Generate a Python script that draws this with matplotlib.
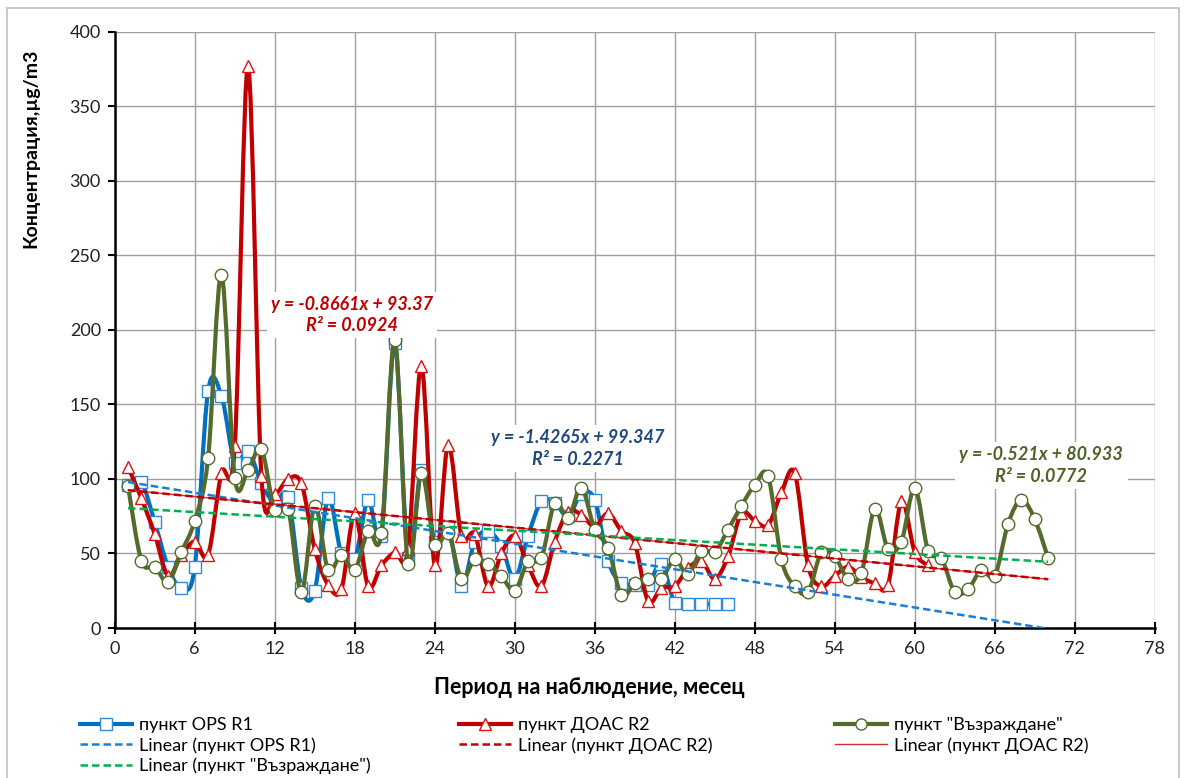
import numpy as np
import matplotlib
matplotlib.use("Agg")
import matplotlib.pyplot as plt
from matplotlib.path import Path
from matplotlib.patches import PathPatch, Rectangle
from matplotlib.lines import Line2D

plt.rcParams['font.family'] = ['Lato', 'Open Sans', 'DejaVu Sans']

# data (month index -> concentration, ug/m3)
ops_x = np.arange(1, 47)
ops_y = [96, 98, 71, 41, 27, 41, 159, 156, 111, 119, 97, 84, 88, 27, 25, 87, 50, 46, 86, 62,
         191, 47, 106, 58, 68, 28, 58, 65, 55, 33, 62, 85, 84, 75, 90, 86, 45, 30, 29, 29,
         43, 17, 16, 16, 16, 16]

doas_x = np.arange(1, 62)
doas_y = [108, 87, 63, 35, 49, 58, 49, 104, 122, 377, 102, 90, 100, 97, 53, 29, 26, 77, 28, 42,
          51, 53, 176, 42, 123, 62, 63, 28, 50, 62, 42, 28, 58, 78, 76, 68, 77, 65, 57, 18,
          27, 28, 40, 45, 33, 48, 77, 72, 69, 91, 104, 42, 28, 35, 41, 34, 30, 29, 85, 51, 42]

vaz_x = np.arange(1, 71)
vaz_y = [95, 45, 41, 31, 51, 72, 114, 237, 101, 106, 120, 79, 80, 24, 82, 39, 49, 39, 65, 64,
         193, 43, 104, 56, 64, 33, 46, 43, 35, 25, 45, 47, 84, 74, 94, 66, 54, 22, 30, 33,
         33, 46, 36, 52, 51, 66, 82, 96, 102, 46, 28, 24, 51, 48, 33, 37, 80, 53, 58, 94,
         52, 47, 24, 26, 39, 35, 70, 86, 73, 47]

# trendline coefficients as printed on the chart
ops_fit = (-1.4265, 99.347, 0.2271)
doas_fit = (-0.8661, 93.37, 0.0924)
vaz_fit = (-0.521, 80.933, 0.0772)
trend_x = [1, 70]

blue = '#0070C0'
blue_mk = '#2E8BD6'
red = '#C00000'
red_mk = '#E01010'
olive = '#546B2C'
green_tr = '#00B050'


def smooth_path(x, y):
    # excel-like smoothed line: cubic bezier through the points
    x = list(x)
    y = list(y)
    n = len(x)
    verts = [(x[0], y[0])]
    codes = [Path.MOVETO]
    for i in range(n - 1):
        xp, yp = (x[i - 1], y[i - 1]) if i > 0 else (x[i], y[i])
        xn, yn = (x[i + 2], y[i + 2]) if i + 2 < n else (x[i + 1], y[i + 1])
        c1 = (x[i] + (x[i + 1] - xp) / 6, y[i] + (y[i + 1] - yp) / 6)
        c2 = (x[i + 1] - (xn - x[i]) / 6, y[i + 1] - (yn - y[i]) / 6)
        verts += [c1, c2, (x[i + 1], y[i + 1])]
        codes += [Path.CURVE4] * 3
    return Path(verts, codes)


fig = plt.figure(figsize=(11.84, 7.78), dpi=100)
ax = fig.add_axes([0.0969, 0.1928, 0.8784, 0.7661])

series = [
    (ops_x, ops_y, blue, blue_mk, 's', 8.5),
    (doas_x, doas_y, red, red_mk, '^', 9),
    (vaz_x, vaz_y, olive, olive, 'o', 9),
]
z = 3
for xs, ys, col, mcol, mk, ms in series:
    ax.add_patch(PathPatch(smooth_path(xs, ys), fill=False, ec=col, lw=3.0,
                           zorder=z, capstyle='round', joinstyle='round'))
    ax.plot(xs, ys, ls='none', marker=mk, ms=ms, mfc='white', mec=mcol, mew=1.0, zorder=z + 0.5)
    z += 1

tx = np.array(trend_x, dtype=float)
ax.plot(tx, ops_fit[0] * tx + ops_fit[1], color='#1A7FD4', lw=1.8, ls=(0, (3, 1.6)), zorder=10)
ax.plot(tx, doas_fit[0] * tx + doas_fit[1], color='#D03030', lw=1.0, ls='-', zorder=10)
ax.plot(tx, doas_fit[0] * tx + doas_fit[1], color=red, lw=1.8, ls=(0, (3, 1.6)), zorder=10)
ax.plot(tx, vaz_fit[0] * tx + vaz_fit[1], color=green_tr, lw=1.8, ls=(0, (3, 1.6)), zorder=10)

ax.set_xlim(0, 78)
ax.set_ylim(0, 400)
ax.set_xticks(np.arange(0, 79, 6))
ax.set_yticks(np.arange(0, 401, 50))
ax.grid(True, color='#A0A0A0', lw=1.0)
ax.set_axisbelow(True)
for s in ['top', 'right']:
    ax.spines[s].set_visible(False)
for s in ['left', 'bottom']:
    ax.spines[s].set_linewidth(1.8)
    ax.spines[s].set_color('black')
ax.tick_params(axis='x', direction='inout', length=9, width=1.5, labelsize=13, pad=5, colors='black',
               labelcolor='#222222')
ax.tick_params(axis='y', direction='out', length=5, width=1.5, labelsize=13, pad=5, colors='black',
               labelcolor='#222222')

fs_eq = 13
ax.text(17.8, 210, 'y = -0.8661x + 93.37\nR² = 0.0924', color=red, fontsize=fs_eq,
        fontweight='bold', fontstyle='italic', ha='center', va='center', linespacing=1.3,
        bbox=dict(fc='white', ec='none', pad=3), zorder=12)
ax.text(34.75, 120.5, 'y = -1.4265x + 99.347\nR² = 0.2271', color='#1F497D', fontsize=fs_eq,
        fontweight='bold', fontstyle='italic', ha='center', va='center', linespacing=1.3,
        bbox=dict(fc='white', ec='none', pad=3), zorder=12)
ax.text(69.5, 109, 'y = -0.521x + 80.933\nR² = 0.0772', color='#4F6228', fontsize=fs_eq,
        fontweight='bold', fontstyle='italic', ha='center', va='center', linespacing=1.3,
        bbox=dict(fc='white', ec='none', pad=3), zorder=12)

fig.text(0.498, 1 - 688 / 778, 'Период на наблюдение, месец', ha='center', va='center',
         fontsize=15.5, fontweight='bold')
fig.text(0.026, 1 - 148 / 778, 'Концентрация,µg/m3', ha='center', va='center',
         rotation=90, fontsize=14, fontweight='bold')

# legend handles
h_ops = Line2D([], [], color=blue, lw=3.0, marker='s', ms=8, mfc='white', mec=blue_mk)
h_doas = Line2D([], [], color=red, lw=3.0, marker='^', ms=8, mfc='white', mec=red_mk)
h_vaz = Line2D([], [], color=olive, lw=3.0, marker='o', ms=8, mfc='white', mec=olive)
h_ops_t = Line2D([], [], color='#1A7FD4', lw=1.8, ls=(0, (3, 1.6)))
h_doas_t = Line2D([], [], color=red, lw=1.8, ls=(0, (3, 1.6)))
h_doas_s = Line2D([], [], color='#D03030', lw=1.0)
h_vaz_t = Line2D([], [], color=green_tr, lw=1.8, ls=(0, (3, 1.6)))

leg_kw = dict(loc='upper left', frameon=False, fontsize=13, handlelength=2.9,
              handletextpad=0.35, labelspacing=0.22, borderpad=0, borderaxespad=0)
legend_top = 1 - 717 / 778
fig.legend([h_ops, h_ops_t, h_vaz_t],
           ['пункт OPS R1', 'Linear (пункт OPS R1)', 'Linear (пункт "Възраждане")'],
           bbox_to_anchor=(80 / 1184, legend_top), **leg_kw)
fig.legend([h_doas, h_doas_t],
           ['пункт ДОАС R2', 'Linear (пункт ДОАС R2)'],
           bbox_to_anchor=(459 / 1184, legend_top), **leg_kw)
fig.legend([h_vaz, h_doas_s],
           ['пункт "Възраждане"', 'Linear (пункт ДОАС R2)'],
           bbox_to_anchor=(835 / 1184, legend_top), **leg_kw)

# chart outer border
fig.patches.append(Rectangle((7 / 1184, -0.1), 1172 / 1184, 1.1 - 8 / 778, transform=fig.transFigure,
                             fill=False, ec='#BFBFBF', lw=1.2))

fig.savefig('out.png', dpi=100)
